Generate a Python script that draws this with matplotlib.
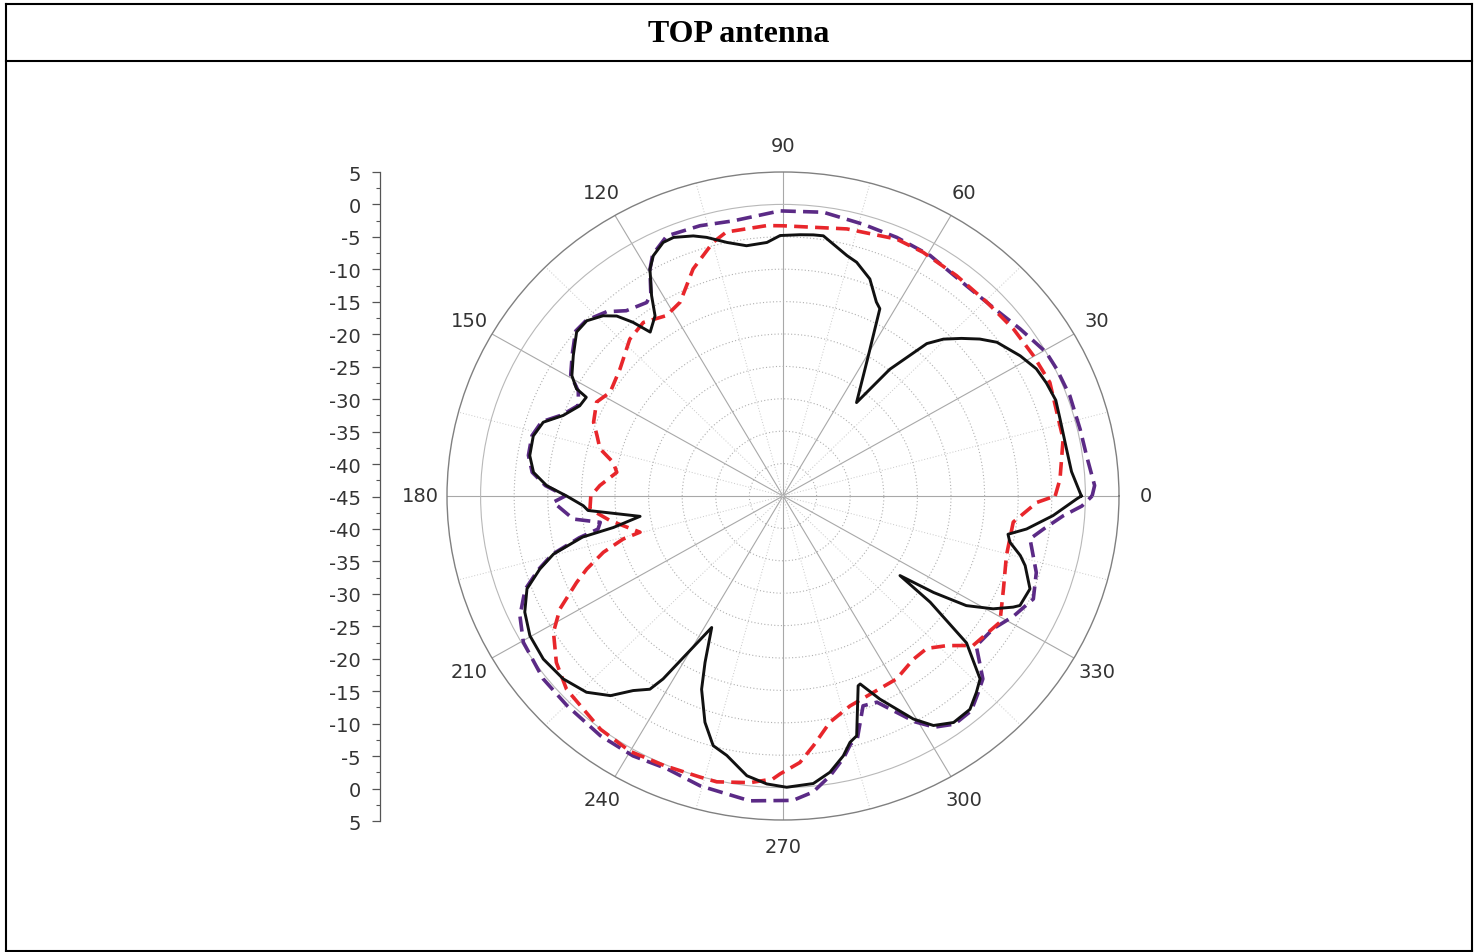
import numpy as np
import matplotlib
matplotlib.use("Agg")
import matplotlib.pyplot as plt
from matplotlib.lines import Line2D
from matplotlib.ticker import FixedLocator

# ---------------- data (angle in degrees, level in dB) ----------------
black_deg = [0, 5, 10, 16, 20, 24, 27.5, 31.5, 36.7, 39.6, 42.5, 45.4, 47.7, 50.9, 52.8,
             59.6, 63.5, 65.1, 68.9, 73.1, 75.6, 81.5, 83.6, 86.4, 90.6, 93.5, 98, 102,
             105.9, 108.4, 112.2, 114.5, 117.5, 119.5, 122.3, 124.4, 128, 129.8, 131.7,
             133.9, 137.2, 140.5, 145.2, 149.4, 151.7, 152.5, 155.3, 159.2, 162.3, 166,
             170.6, 174.4, 177.4, 180, 182.9, 184.4, 188.4, 190.9, 192, 194.7, 197.3,
             200.6, 205, 209.8, 215.2, 220.8, 226, 230.2, 233.4, 236.4, 237.7, 242.4,
             245.7, 247.9, 251.6, 254.9, 258.2, 262.9, 266.9, 270.7, 275.8, 279.3, 282.6,
             284.7, 286.5, 290.9, 291.6, 294.7, 299.4, 302.3, 306, 310.2, 313.5, 316.1,
             320.3, 323.2, 324.8, 326.4, 328.2, 330.9, 333.4, 334.4, 338.7, 343.4, 345.4,
             348.1, 350, 352, 355.7, 359.4, 360]
black_db = [-0.6, -1.9, -2.2, -2.1, -1.8, -2.1, -2.5, -3.6, -5.3, -7.0, -9.0, -11.0, -13.2,
            -19.8, -26.9, -19.9, -12.7, -12.0, -9.1, -7.3, -6.7, -4.4, -4.45, -4.6, -4.8,
            -5.8, -6.0, -5.0, -3.5, -2.7, -1.9, -2.0, -3.2, -4.8, -8.4, -11.3, -12.9,
            -10.1, -7.8, -6.4, -5.2, -5.2, -7.0, -8.5, -10.1, -12.0, -11.7, -10.0, -7.55,
            -6.7, -6.8, -7.7, -9.8, -12.8, -15.25, -15.9, -23.5, -19.3, -14.5, -9.7, -7.1,
            -4.3, -2.6, -1.6, -1.35, -1.8, -2.9, -4.9, -7.6, -9.2, -11.6, -22.1, -16.8,
            -12.8, -8.2, -5.1, -4.1, -1.5, -0.5, -0.05, -0.4, -1.8, -3.9, -5.7, -6.4,
            -13.65, -13.8, -10.5, -5.5, -3.1, -1.8, -1.9, -3.2, -4.3, -9.5, -17.65, -23.7,
            -18.1, -12.9, -9.2, -6.7, -5.9, -5.55, -7.4, -8.5, -10.5, -11.0, -8.4, -4.7,
            -1.3, -0.6]

purple_deg = [0, 2, 7.8, 13.1, 19.9, 25.7, 29.5, 36.2, 42, 49.9, 59.5, 67, 74.1, 82.2, 90.6,
              99.9, 106.5, 113.3, 117.5, 119.5, 122.3, 124.2, 129.2, 132.7, 137.2, 140.5,
              145.2, 149.4, 152, 155.3, 159.2, 162.3, 166, 170.6, 174.4, 177.4, 180, 181.6,
              186.5, 188.5, 190.5, 192, 194.7, 197.3, 200.6, 205.3, 210.3, 218.3, 225.2,
              233.7, 240.9, 247.7, 254.6, 264, 271.8, 275.6, 279.3, 282.6, 284.7, 286.5,
              290.2, 293.7, 299.4, 302.3, 306, 310.2, 313.5, 316.5, 321.2, 326.8, 331.6,
              336.9, 342.6, 349.8, 352.5, 355.8, 358, 360]
purple_db = [1.0, 1.4, 0.6, 0.4, 0.4, 0.2, 0.0, -1.3, -2.2, -2.6, -1.9, -1.65, -1.4, -0.8,
             -1.0, -1.9, -1.5, -1.3, -3.0, -4.8, -8.2, -8.9, -8.1, -6.3, -5.1, -5.0, -6.8,
             -8.3, -10.5, -11.5, -9.8, -7.3, -6.5, -6.6, -7.5, -9.6, -12.6, -10.8, -13.6,
             -17.5, -17.0, -14.0, -9.5, -6.9, -4.0, -1.7, -0.25, 0.5, 0.6, 0.9, 0.9, 0.5,
             1.4, 2.3, 2.0, 0.9, -1.3, -3.6, -5.4, -6.0, -10.5, -10.25, -5.0, -2.8, -1.5,
             -1.6, -2.9, -4.0, -8.1, -7.6, -6.0, -4.5, -5.5, -7.65, -5.9, -3.2, -0.5, 1.0]

red_deg = [0, 3.6, 11.9, 23.8, 30.2, 36.9, 44.6, 52.8, 61, 66.9, 77, 90, 93.3, 101.7, 104.9,
           110.9, 117.1, 121.9, 127.8, 133.3, 141, 148.1, 152.4, 158, 161.4, 165, 168.4,
           171.6, 176.6, 180, 184, 188.4, 194.7, 195.6, 198, 201.1, 203.5, 207.7, 211.6,
           217.3, 222.8, 233, 240, 247, 254.1, 257.4, 263.7, 268, 269.4, 273.5, 276.7,
           281.3, 287.1, 300.9, 307.6, 312.3, 316.6, 320.8, 328.9, 336.4, 344.5, 353.3,
           358.5, 360]
red_db = [-4.5, -3.7, -2.4, -1.6, -1.9, -2.1, -2.4, -2.3, -2.0, -1.9, -2.7, -3.3, -3.2, -3.4,
          -4.5, -7.5, -11.4, -12.2, -11.1, -11.75, -13.8, -14.7, -13.7, -14.6, -15.8, -16.8,
          -19.2, -20.0, -17.7, -16.4, -16.2, -19.0, -23.0, -20.3, -16.9, -13.7, -11.5, -7.5,
          -4.9, -2.6, -1.1, 0.1, 0.5, 0.2, 0.1, 0.2, -0.5, -1.3, -2.1, -3.8, -6.2, -9.4,
          -11.1, -12.1, -13.2, -13.2, -11.4, -8.5, -7.3, -9.2, -10.5, -10.5, -7.2, -4.5]

angle_ticks = list(range(0, 360, 30))
angle_labels = [str(a) for a in angle_ticks]
ring_levels = [-40, -35, -30, -25, -20, -15, -10, -5, 0]
r_min, r_max = -45, 5
title_text = "TOP antenna"

# ---------------- figure ----------------
W, H = 1479, 953
fig = plt.figure(figsize=(W / 100, H / 100), dpi=100)
fig.patch.set_facecolor("white")

def fx(px):
    return px / W

def fy(py):
    return 1 - py / H

# outer frame and title divider
frame_lw = 1.5
for (x0, y0, x1, y1) in [(6, 5, 1472, 5), (6, 952, 1472, 952), (6, 5, 6, 952),
                         (1472, 5, 1472, 952), (6, 61.5, 1472, 61.5)]:
    fig.add_artist(Line2D([fx(x0), fx(x1)], [fy(y0), fy(y1)], color="black",
                          lw=frame_lw, solid_capstyle="projecting"))

fig.text(fx(739), fy(35), title_text, ha="center", va="center",
         fontsize=23, fontweight="bold", family="Liberation Serif")

# polar axes (slightly wider than tall, as in the reference)
cx, cy, rx, ry = 783, 497, 336, 324
ax = fig.add_axes([fx(cx - rx), fy(cy + ry), 2 * rx / W, 2 * ry / H], projection="polar")
ax.set_aspect("auto")
ax.set_facecolor("white")
ax.set_ylim(r_min, r_max)

ax.set_thetagrids(angle_ticks, angle_labels, fontsize=14, color="#333333",
                  family="DejaVu Sans")
ax.tick_params(axis="x", pad=12, length=0)
ax.xaxis.set_minor_locator(FixedLocator(np.deg2rad(np.arange(15, 360, 30))))
ax.tick_params(axis="x", which="minor", length=4, direction="in", color="#888888", width=0.8)
ax.set_rgrids(ring_levels, labels=[""] * len(ring_levels))
ax.tick_params(axis="y", length=0)

ax.grid(False)
ax.xaxis.grid(True, which="major", color="#a8a8a8", lw=0.8, ls="-")
ax.xaxis.grid(True, which="minor", color="#c8c8c8", lw=0.7, ls=(0, (1, 2)))
ax.yaxis.grid(True, color="#b0b0b0", lw=0.8, ls=(0, (1, 2)))
for gl, lev in zip(ax.yaxis.get_gridlines(), ring_levels):
    if lev == 0:
        gl.set_linestyle("-")
        gl.set_color("#b8b8b8")
ax.spines["polar"].set_color("#808080")
ax.spines["polar"].set_linewidth(1.0)

ax.plot(np.deg2rad(purple_deg), purple_db, color="#5b2a86", lw=2.6, ls=(0, (4.2, 2.0)),
        zorder=3)
ax.plot(np.deg2rad(red_deg), red_db, color="#e8262b", lw=2.6, ls=(0, (3.8, 2.0)), zorder=4)
ax.plot(np.deg2rad(black_deg), black_db, color="#111111", lw=2.1, zorder=5)

# mirrored radial scale on the left
ax2 = fig.add_axes([fx(380), fy(822), 0.0005, (822 - 173) / H])
ax2.set_ylim(-50, 50)
pos = np.arange(-50, 51, 5)
ax2.set_yticks(pos)
ax2.set_yticklabels([str(int(abs(p) - 45)) for p in pos], fontsize=14, color="#333333",
                    family="DejaVu Sans")
ax2.yaxis.set_minor_locator(FixedLocator(np.arange(-47.5, 50, 5)))
ax2.tick_params(axis="y", which="major", length=6, width=0.9, color="#555555", pad=8,
                direction="out")
ax2.tick_params(axis="y", which="minor", length=3, width=0.8, color="#555555",
                direction="out")
ax2.set_xticks([])
for s in ["top", "right", "bottom"]:
    ax2.spines[s].set_visible(False)
ax2.spines["left"].set_color("#555555")
ax2.spines["left"].set_linewidth(0.9)
ax2.patch.set_alpha(0)

fig.savefig("out.png", dpi=100, facecolor="white")
